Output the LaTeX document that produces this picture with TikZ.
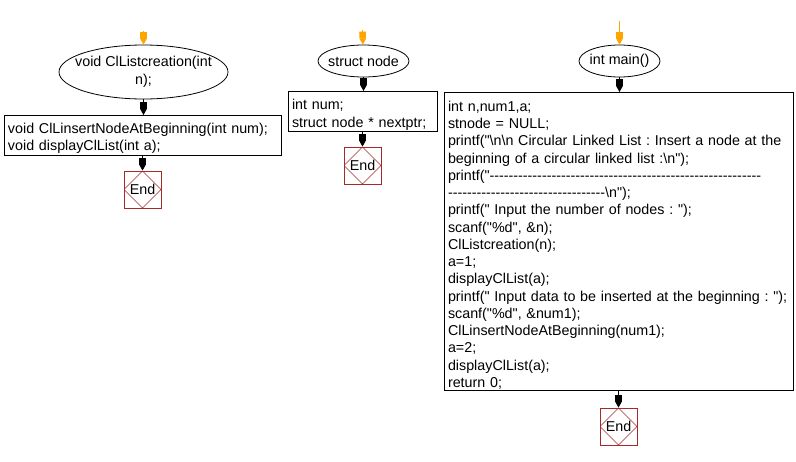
\documentclass[tikz,border=0pt]{standalone}
\usepackage{fontspec}
\setmainfont{Liberation Sans}[Ligatures=TeXOff]
\usetikzlibrary{shapes.geometric,arrows.meta}

\definecolor{flowin}{RGB}{255,165,0}
\definecolor{endred}{RGB}{165,42,42}

% 1 unit = 1 pixel of the picture
\newcommand{\codesize}{\fontsize{14.3}{17.25}\selectfont\frenchspacing}
\newcommand{\zerowide}[1]{\makebox[0pt]{#1}}
\newcommand{\dashrun}[1]{\foreach \k in {1,...,#1}{-\kern0pt}}
\newcommand{\bsl}{\textbackslash}

\tikzset{
  startnode/.style={ellipse, draw, line width=0.8pt, inner sep=0pt, font=\codesize},
  codebox/.style={rectangle, draw, line width=0.8pt, anchor=north, align=left,
    inner xsep=4pt, inner ysep=0pt, font=\codesize},
  endnode/.style={rectangle, draw=endred, line width=0.8pt, minimum size=37pt,
    inner sep=0pt, font=\codesize,
    path picture={\draw[endred, line width=0.5pt]
      (path picture bounding box.north) -- (path picture bounding box.east) --
      (path picture bounding box.south) -- (path picture bounding box.west) -- cycle;}},
  flowarrow/.style={line width=0.8pt,
    -{Rectangle[length=7pt,width=6.5pt]Triangle[length=6pt,width=6.5pt]}},
  entryarrow/.style={flowarrow, draw=flowin}
}

\begin{document}
\begin{tikzpicture}[x=1pt,y=-1pt]
        \useasboundingbox (0,0) rectangle (796,461);
        % Left column: ClListcreation
        \coordinate (in1) at (143.5,31);
        \node[startnode, minimum width=169pt, minimum height=54pt] (creation) at (143.5,72)
          {\zerowide{\begin{tabular}{@{}c@{}}void ClListcreation(int\\n);\end{tabular}}};
        \node[codebox, text width=269pt, text height=18pt, text depth=22pt] (protos) at (142.5,115)
          {void ClLinsertNodeAtBeginning(int num);\\
           void displayClList(int a);};
        \node[endnode] (end1) at (142.5,189.5) {End};
        % Middle column: struct node
        \coordinate (in2) at (362.5,30);
        \node[startnode, minimum width=91pt, minimum height=32pt] (snode) at (363.5,61)
          {\zerowide{struct node}};
        \node[codebox, text width=141pt, text height=18.5pt, text depth=21.5pt] (fields) at (362.5,91)
          {int num;\\
           struct node * nextptr;};
        \node[endnode] (end2) at (362.5,165.5) {End};
        % Right column: main
        \coordinate (in3) at (619.5,21);
        \node[startnode, minimum width=81pt, minimum height=32pt] (main) at (619.5,61)
          {\zerowide{int main()}};
        \node[codebox, text width=341pt, text height=19pt, text depth=279pt] (body) at (618.5,92)
          {int n,num1,a;\\
           stnode = NULL;\\
           printf("\bsl n\bsl n Circular Linked List : Insert a node at the\\
           beginning of a circular linked list :\bsl n");\\
           printf("\dashrun{57}\\
           \dashrun{33}\bsl n");\\
           printf(" Input the number of nodes : ");\\
           scanf("\%d", \&n);\\
           ClListcreation(n);\\
           a=1;\\
           displayClList(a);\\
           printf(" Input data to be inserted at the beginning : ");\\
           scanf("\%d", \&num1);\\
           ClLinsertNodeAtBeginning(num1);\\
           a=2;\\
           displayClList(a);\\
           return 0;};
        \node[endnode] (end3) at (618.5,426.5) {End};
        % Entry arrows
        \draw[entryarrow] (in1) -- (creation);
        \draw[entryarrow] (in2) -- (snode);
        \draw[entryarrow] (in3) -- (main);
        % Flow arrows
        \draw[flowarrow] (creation.south) -- (creation.south |- protos.north);
        \draw[flowarrow] (protos.south) -- (end1.north);
        \draw[flowarrow] (snode.south) -- (snode.south |- fields.north);
        \draw[flowarrow] (fields.south) -- (end2.north);
        \draw[flowarrow] (main.south) -- (main.south |- body.north);
        \draw[flowarrow] (body.south) -- (end3.north);
    \end{tikzpicture}
\end{document}
